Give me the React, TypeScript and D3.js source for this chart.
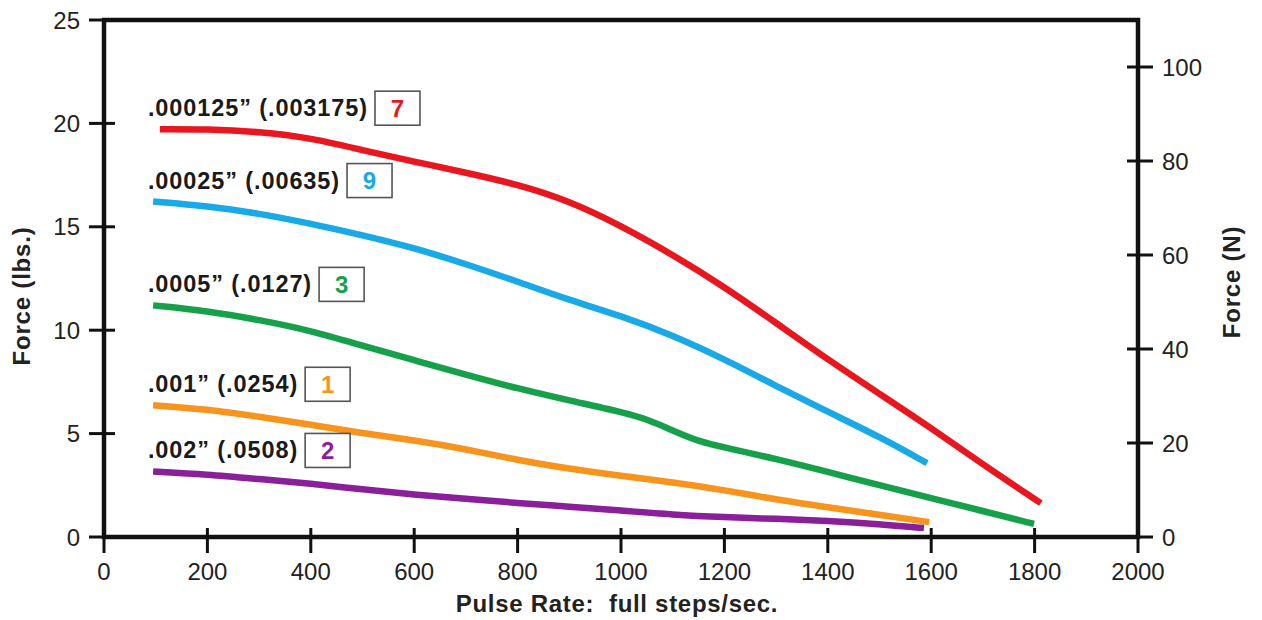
import React, { useEffect, useRef } from "react";
import * as d3 from "d3";

const xTicks = [0, 200, 400, 600, 800, 1000, 1200, 1400, 1600, 1800, 2000];
const yTicksLbs = [0, 5, 10, 15, 20, 25];
const yTicksN = [0, 20, 40, 60, 80, 100];

const redRate = [108, 200, 300, 400, 500, 600, 700, 800, 900, 1000, 1100, 1200, 1300, 1400, 1500, 1600, 1700, 1812];
const redForce = [19.72, 19.72, 19.6, 19.3, 18.7, 18.15, 17.62, 17.05, 16.25, 15.05, 13.65, 12.1, 10.35, 8.58, 6.92, 5.27, 3.5, 1.64];

const blueRate = [95, 200, 300, 400, 500, 600, 700, 800, 900, 1000, 1100, 1200, 1300, 1400, 1500, 1592];
const blueForce = [16.22, 16.0, 15.65, 15.15, 14.6, 13.98, 13.2, 12.35, 11.45, 10.7, 9.75, 8.6, 7.3, 6.05, 4.85, 3.57];

const greenRate = [95, 200, 300, 400, 500, 600, 700, 800, 900, 1000, 1050, 1100, 1150, 1200, 1300, 1400, 1500, 1600, 1700, 1799];
const greenForce = [11.2, 10.93, 10.5, 9.98, 9.25, 8.55, 7.85, 7.18, 6.6, 6.05, 5.7, 5.15, 4.62, 4.33, 3.78, 3.15, 2.5, 1.88, 1.26, 0.63];

const orangeRate = [95, 200, 300, 400, 500, 600, 700, 800, 900, 1000, 1100, 1200, 1300, 1400, 1500, 1596];
const orangeForce = [6.37, 6.18, 5.82, 5.43, 5.02, 4.68, 4.25, 3.72, 3.3, 2.95, 2.65, 2.27, 1.81, 1.44, 1.07, 0.72];

const purpleRate = [95, 200, 300, 400, 500, 600, 700, 800, 900, 1000, 1100, 1200, 1300, 1400, 1500, 1586];
const purpleForce = [3.17, 3.03, 2.8, 2.58, 2.3, 2.05, 1.85, 1.64, 1.47, 1.28, 1.08, 0.96, 0.88, 0.78, 0.62, 0.43];

const seriesLabels = [".000125\u201D (.003175)", ".00025\u201D (.00635)", ".0005\u201D (.0127)", ".001\u201D (.0254)", ".002\u201D (.0508)"];
const seriesCodes = ["7", "9", "3", "1", "2"];
const seriesColors = ["#e8161e", "#18a9e6", "#17a04a", "#f7941d", "#8a1f9a"];
const seriesRates = [redRate, blueRate, greenRate, orangeRate, purpleRate];
const seriesForces = [redForce, blueForce, greenForce, orangeForce, purpleForce];

const xLabel = "Pulse Rate:  full steps/sec.";
const yLabelLeft = "Force (lbs.)";
const yLabelRight = "Force (N)";

const FONT = "'Liberation Sans', Arial, Helvetica, sans-serif";

export default function App() {
  const ref = useRef<SVGSVGElement>(null);

  useEffect(() => {
    const svg = d3.select(ref.current);
    svg.selectAll("*").remove();

    const x = d3.scaleLinear().domain([0, 2000]).range([104, 1138]);
    const y = d3.scaleLinear().domain([0, 25]).range([537, 20]);
    const yN = d3.scaleLinear().domain([0, 110]).range([537, 20]);

    const ink = "#111";

    const line = d3
      .line<[number, number]>()
      .x((d) => x(d[0]))
      .y((d) => y(d[1]))
      .curve(d3.curveBasis);

    seriesRates.forEach((rates, i) => {
      const pts: [number, number][] = rates.map((r, j) => [r, seriesForces[i][j]]);
      svg
        .append("path")
        .attr("d", line(pts) as string)
        .attr("fill", "none")
        .attr("stroke", seriesColors[i])
        .attr("stroke-width", 6.5)
        .attr("stroke-linecap", "butt")
        .attr("stroke-linejoin", "round");
    });

    const g = svg.append("g");
    g.append("path")
      .attr("d", `M${x(0)},${y(0)} L${x(0)},${y(25)} L${x(2000)},${y(25)} L${x(2000)},${y(0)} Z`)
      .attr("fill", "none")
      .attr("stroke", ink)
      .attr("stroke-width", 4.5)
      .attr("stroke-linejoin", "miter");

    yTicksLbs.forEach((t) => {
      g.append("line")
        .attr("x1", x(0) - 15)
        .attr("x2", t === 0 ? x(0) : x(0) + 11)
        .attr("y1", y(t))
        .attr("y2", y(t))
        .attr("stroke", ink)
        .attr("stroke-width", 3);
      g.append("text")
        .attr("x", 80)
        .attr("y", y(t))
        .attr("dy", "0.36em")
        .attr("text-anchor", "end")
        .attr("font-family", FONT)
        .attr("font-size", 24)
        .attr("fill", "#222")
        .text(String(t));
    });

    yTicksN.forEach((t) => {
      g.append("line")
        .attr("x1", t === 0 ? x(2000) : x(2000) - 11)
        .attr("x2", x(2000) + 15)
        .attr("y1", yN(t))
        .attr("y2", yN(t))
        .attr("stroke", ink)
        .attr("stroke-width", 3);
      g.append("text")
        .attr("x", 1162)
        .attr("y", yN(t))
        .attr("dy", "0.36em")
        .attr("text-anchor", "start")
        .attr("font-family", FONT)
        .attr("font-size", 24)
        .attr("fill", "#222")
        .text(String(t));
    });

    xTicks.forEach((t) => {
      g.append("line")
        .attr("x1", x(t))
        .attr("x2", x(t))
        .attr("y1", t === 0 || t === 2000 ? y(0) : y(0) - 9)
        .attr("y2", y(0) + 16)
        .attr("stroke", ink)
        .attr("stroke-width", 3);
      g.append("text")
        .attr("x", x(t))
        .attr("y", 580)
        .attr("text-anchor", "middle")
        .attr("font-family", FONT)
        .attr("font-size", 24)
        .attr("fill", "#222")
        .text(String(t));
    });

    svg
      .append("text")
      .attr("x", 617)
      .attr("y", 612)
      .attr("text-anchor", "middle")
      .attr("font-family", FONT)
      .attr("font-size", 24)
      .attr("font-weight", "bold")
      .attr("letter-spacing", 0.7)
      .attr("fill", "#222")
      .style("white-space", "pre")
      .text(xLabel);

    svg
      .append("text")
      .attr("transform", "translate(30,296) rotate(-90)")
      .attr("text-anchor", "middle")
      .attr("font-family", FONT)
      .attr("font-size", 24)
      .attr("font-weight", "bold")
      .attr("letter-spacing", 0.8)
      .attr("fill", "#222")
      .text(yLabelLeft);

    svg
      .append("text")
      .attr("transform", "translate(1240,282) rotate(-90)")
      .attr("text-anchor", "middle")
      .attr("font-family", FONT)
      .attr("font-size", 24)
      .attr("font-weight", "bold")
      .attr("letter-spacing", 0.8)
      .attr("fill", "#222")
      .text(yLabelRight);

    seriesLabels.forEach((lab, i) => {
      const y0 = y(seriesForces[i][0]);
      const tx = x(85);
      const ty = y0 - 13;
      const t = svg
        .append("text")
        .attr("x", tx)
        .attr("y", ty)
        .attr("font-family", FONT)
        .attr("font-size", 23.5)
        .attr("font-weight", "bold")
        .attr("letter-spacing", 0.9)
        .attr("fill", "#1a1a1a")
        .text(lab);
      const w = (t.node() as SVGTextElement).getComputedTextLength();
      const bx = tx + w + 7;
      svg
        .append("rect")
        .attr("x", bx)
        .attr("y", ty - 25)
        .attr("width", 45)
        .attr("height", 34)
        .attr("fill", "#fff")
        .attr("stroke", "#555")
        .attr("stroke-width", 1.6);
      svg
        .append("text")
        .attr("x", bx + 22.5)
        .attr("y", ty - 8)
        .attr("dy", "0.36em")
        .attr("text-anchor", "middle")
        .attr("font-family", FONT)
        .attr("font-size", 24)
        .attr("font-weight", "bold")
        .attr("fill", seriesColors[i])
        .text(seriesCodes[i]);
    });
  }, []);

  return (
    <svg
      ref={ref}
      width={1262}
      height={620}
      style={{ position: "absolute", left: 0, top: 0, background: "#fff" }}
    />
  );
}
